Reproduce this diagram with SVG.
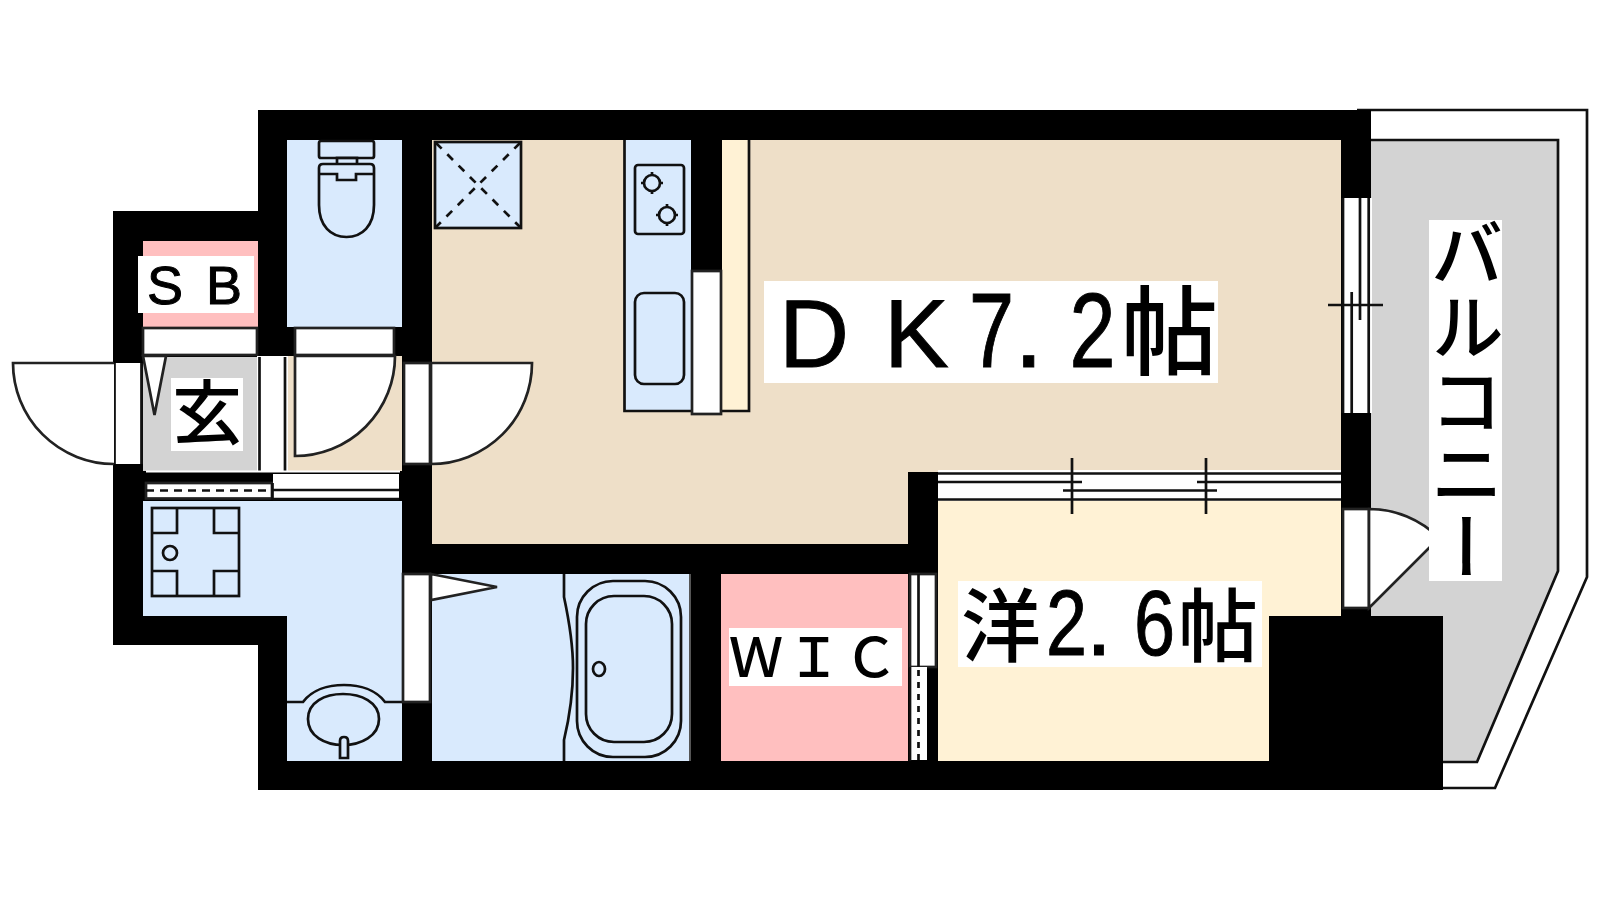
<svg xmlns="http://www.w3.org/2000/svg" width="1600" height="900" viewBox="0 0 1600 900">
<style>
.l{fill:none;stroke:#111;stroke-width:2.700}
.w{fill:#fff;stroke:#222;stroke-width:2.700}
.f{fill:#D9EAFD;stroke:#111;stroke-width:2.700}
.t{font-family:"Noto Sans CJK JP",sans-serif;font-weight:500;fill:#000}
.a{font-family:"Liberation Sans",sans-serif;font-weight:400;stroke:#000;stroke-width:1}
</style>
<rect width="1600" height="900" fill="#fff"/>
<path class="l" d="M1357 110H1587V577L1495 788H1443"/>
<path d="M1371 140H1558V571L1477 762H1371Z" fill="#D3D3D3"/>
<path class="l" d="M1371 140H1558V571L1477 762H1443"/>
<path d="M258 110H1371V616H1443V790H258V645H113V211H258Z" fill="#000"/>
<rect x="143" y="241" width="115" height="86" fill="#FFBFBF"/>
<rect x="287" y="140" width="115" height="187" fill="#D9EAFD"/>
<path d="M432 140H1341V472H908V544H432Z" fill="#EEDFC8"/>
<path d="M143 501H402V761H287V616H143Z" fill="#D9EAFD"/>
<rect x="432" y="574" width="257" height="187" fill="#D9EAFD"/>
<rect x="721" y="574" width="187" height="187" fill="#FFBFBF"/>
<path d="M938 501H1341V616H1269V761H938Z" fill="#FFF2D5"/>
<rect x="143" y="357" width="114" height="114" fill="#D3D3D3"/>
<rect x="288" y="356" width="114" height="115" fill="#EEDFC8"/>
<g id="entrance">
<rect x="114.500" y="363" width="27" height="101" fill="#fff"/>
<path class="l" d="M114.500 363V464M141.500 363V464"/>
<path class="w" d="M114 363H13A101 101 0 0 0 114 464"/>
<path class="w" d="M143 356H166L154.500 415Z"/>
<rect class="w" x="143" y="328" width="114" height="27"/>
<rect class="w" x="295" y="328" width="99" height="27"/>
<rect x="257" y="356" width="31" height="116" fill="#fff"/>
<path class="l" d="M259.500 357V472M285 357V472"/>
<path class="w" d="M295 356H395A100 100 0 0 1 295 456Z"/>
<path d="M146 471.500H400" stroke="#fff" stroke-width="2"/>
</g>
<g id="hall-doors">
<rect x="404" y="363" width="26" height="101" class="w"/>
<path class="w" d="M431 363H532A101 101 0 0 1 431 464Z"/>
<rect x="146" y="483" width="126" height="15.500" class="w"/>
<path d="M146 490.500H272" fill="none" stroke="#111" stroke-width="2.700" stroke-dasharray="8 6"/>
<rect x="273" y="474" width="126" height="25" fill="#fff"/>
<path class="l" d="M273 499H399M273 490H399M272.500 483V500"/>
</g>
<g id="toilet" class="l">
<rect class="f" x="319" y="141" width="55" height="17" rx="2"/>
<rect class="f" x="337" y="158" width="20" height="7"/>
<path class="f" d="M319 168Q319 164 323 164H370Q374 164 374 168V205C374 226 362 237 346.500 237C331 237 319 226 319 205Z"/>
<path class="l" d="M319 174H337V180H356V174H374"/>
</g>
<g id="kitchen">
<rect class="f" x="435" y="142" width="86" height="86"/>
<path d="M436 143L520 227M520 143L436 227" fill="none" stroke="#111" stroke-width="2.700" stroke-dasharray="8 8"/>
<path d="M624.500 140V411H691V140Z" fill="#D9EAFD"/>
<path class="l" d="M624.500 140V411H691"/>
<rect x="691" y="140" width="31" height="131" fill="#000"/>
<path d="M722 140H749V411H722Z" fill="#FFF2D5"/>
<path class="l" d="M749 140V411H722"/>
<rect class="w" x="692" y="271" width="29" height="143"/>
<rect class="f" x="635" y="165" width="49" height="69" rx="3"/>
<circle class="l" cx="652" cy="183" r="8"/>
<circle class="l" cx="667" cy="215" r="8"/>
<path class="l" d="M652 172V176M652 190V194M641 183H645M659 183H663M667 204V208M667 222V226M656 215H660M674 215H678"/>
<rect class="f" x="635" y="293" width="49" height="91" rx="9"/>
</g>
<g id="laundry">
<rect class="f" x="152" y="508" width="87" height="88"/>
<path class="l" d="M177 508V533H152M214 508V533H239M177 596V571H152M214 596V571H239"/>
<circle class="l" cx="170" cy="553" r="7"/>
<path class="l" d="M287 702H303C312 690 328 685 344 685C360 685 376 690 385 702H402"/>
<path class="l" d="M308 719C308 702 325 694 343 694C361 694 379 702 379 719C379 736 361 745 343 745C325 745 308 736 308 719Z"/>
<path class="f" d="M340 758V741Q340 737 344 737Q348 737 348 741V758Z"/>
</g>
<g id="bath">
<rect class="w" x="403" y="574" width="27" height="128"/>
<path class="w" d="M431 574L497 587L431 600Z"/>
<path class="l" d="M564 574V597C570 625 573 650 573 668C573 690 570 715 564 740V761"/>
<rect class="l" x="577" y="581" width="104" height="176" rx="36"/>
<rect class="l" x="586" y="596" width="86" height="146" rx="28"/>
<ellipse class="l" cx="599" cy="669" rx="6" ry="7"/>
<path d="M690 574V761" stroke="#555" stroke-width="2"/>
</g>
<g id="wic-door">
<rect class="w" x="910" y="574" width="26" height="93"/>
<path class="l" d="M918.500 574V667"/>
<rect x="910" y="667" width="17" height="93" fill="#fff"/>
<path class="l" d="M910 667V761"/>
<path d="M918.500 670V760" stroke="#111" stroke-width="2.700" stroke-dasharray="6 6"/>
</g>
<g id="windows">
<rect x="938" y="470" width="403" height="31" fill="#fff"/>
<path class="l" d="M938 473.500H1341M938 482H1082M1197 482H1341M1063 490.500H1217M938 499.500H1341M1072 458V514M1206 458V514"/>
<rect x="1342" y="198" width="30" height="215" fill="#fff"/>
<path class="l" d="M1343 198V413M1368.700 198V413M1351.700 292V413M1360 198V320M1328 305H1383"/>
<rect x="1343" y="509" width="26" height="99" class="w"/>
<path class="w" d="M1369 509A99 99 0 0 1 1439 538L1369 608Z"/>
</g>
<g id="labels">
<rect x="138" y="256" width="116" height="57" fill="#fff"/>
<text class="t a" font-size="54" x="147 206" y="304">SB</text>
<rect x="171" y="378" width="72" height="73" fill="#fff"/>
<text class="t" font-size="70" x="172" y="439">玄</text>
<rect x="729" y="628" width="173" height="58" fill="#fff"/>
<text class="t" font-size="54" x="729 787 844" y="677">ＷＩＣ</text>
<rect x="764" y="281" width="454" height="102" fill="#fff"/>
<text class="t" y="367"><tspan class="a" font-size="97" x="779 884">DK</tspan><tspan class="a" font-size="106" x="969" textLength="45" lengthAdjust="spacingAndGlyphs">7</tspan><tspan class="a" font-size="106" x="1014">.</tspan><tspan class="a" font-size="106" x="1069.500" textLength="46" lengthAdjust="spacingAndGlyphs">2</tspan><tspan font-size="97" x="1121">帖</tspan></text>
<rect x="958" y="581" width="304" height="86" fill="#fff"/>
<text class="t" y="655"><tspan font-size="80" x="961">洋</tspan><tspan class="a" font-size="93" x="1046" textLength="41" lengthAdjust="spacingAndGlyphs">2</tspan><tspan class="a" font-size="93" x="1086">.</tspan><tspan class="a" font-size="93" x="1134" textLength="41" lengthAdjust="spacingAndGlyphs">6</tspan><tspan font-size="80" x="1178">帖</tspan></text>
<rect x="1429" y="220" width="73" height="361" fill="#fff"/>
<text class="t" font-size="73.500" x="1467" y="216" style="writing-mode:vertical-rl">バルコニー</text>
</g>
</svg>
